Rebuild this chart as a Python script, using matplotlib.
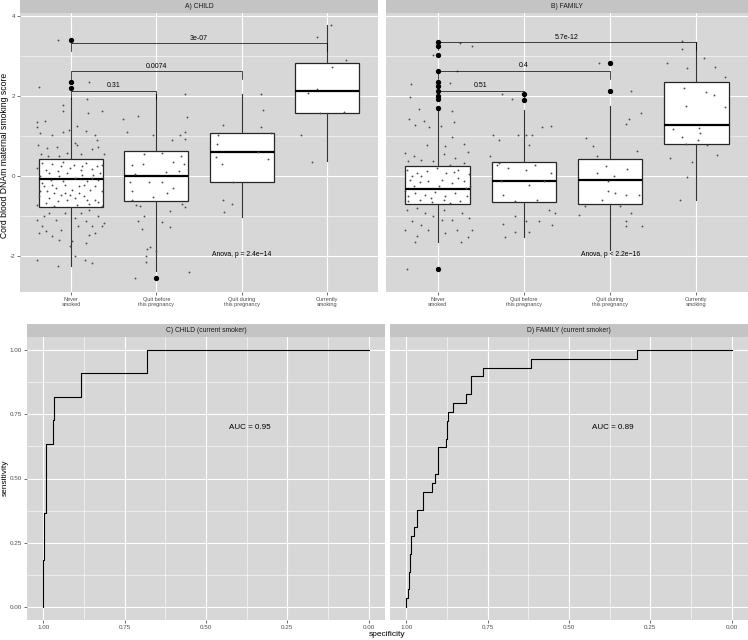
import matplotlib.pyplot as plt

plt.rcParams['font.family'] = ['Liberation Sans', 'DejaVu Sans']

# grupper på x-axeln
groups = ['Never\nsmoked', 'Quit before\nthis pregnancy', 'Quit during\nthis pregnancy', 'Currently\nsmoking']

# boxplot-statistik, CHILD
child_q1 = [-0.78, -0.63, -0.15, 1.58]
child_med = [-0.07, 0.00, 0.60, 2.13]
child_q3 = [0.43, 0.64, 1.07, 2.82]
child_lo = [-2.26, -2.38, -1.02, 0.37]
child_hi = [1.95, 2.05, 2.05, 3.78]
child_out = [[3.41, 2.35, 2.20], [-2.56], [], []]

# boxplot-statistik, FAMILY
family_q1 = [-0.70, -0.65, -0.70, 0.81]
family_med = [-0.33, -0.13, -0.09, 1.28]
family_q3 = [0.24, 0.34, 0.42, 2.36]
family_lo = [-1.65, -1.53, -1.84, -0.60]
family_hi = [1.62, 1.66, 1.76, 3.35]
family_out = [[3.35, 3.26, 3.04, 2.64, 2.35, 2.26, 2.14, 2.01, 1.93, 1.70, -2.32], [2.05, 1.91], [2.83, 2.14], []]

# jitterpunkter (förskjutning i x, värde)
child_never = [
    (-0.34, 0.33), (-0.22, 0.31), (-0.10, 0.34), (0.03, 0.28), (0.17, 0.33), (0.30, 0.24),
    (-0.30, 0.16), (-0.16, 0.12), (-0.05, 0.08), (0.11, 0.14), (0.24, 0.18), (0.34, 0.08),
    (-0.36, -0.01), (-0.24, -0.09), (-0.10, -0.13), (0.05, -0.05), (0.19, -0.13), (0.32, -0.09),
    (-0.32, -0.26), (-0.18, -0.30), (-0.07, -0.42), (0.09, -0.26), (0.22, -0.34), (0.36, -0.38),
    (-0.38, -0.51), (-0.26, -0.55), (-0.12, -0.47), (-0.01, -0.47), (0.15, -0.51), (0.28, -0.59),
    (-0.30, -0.67), (-0.16, -0.63), (-0.05, -0.59), (0.07, -0.72), (0.21, -0.69), (0.32, -0.66),
    (-0.36, -0.38), (-0.22, -0.22), (0.01, -0.34), (0.13, 0.03), (-0.40, 0.20), (-0.26, 0.08),
    (-0.12, 0.24), (-0.01, 0.20), (0.13, 0.24), (0.26, 0.03), (0.36, 0.28), (-0.34, -0.17),
    (-0.20, -0.42), (-0.07, -0.22), (0.15, -0.22), (0.28, -0.26), (-0.40, -0.72), (0.05, -0.55),
    (0.19, -0.59), (0.36, -0.76), (-0.14, -0.01), (0.24, -0.05), (-0.28, -0.38), (0.09, -0.42),
    (-0.38, 2.23), (-0.15, 3.41), (0.21, 2.36), (0.19, 1.94), (-0.09, 1.78), (-0.09, 1.64),
    (0.36, 1.63), (0.20, 1.58), (-0.40, 1.35), (-0.31, 1.39), (-0.40, 1.24), (-0.37, 1.08),
    (-0.22, 1.04), (-0.10, 1.10), (-0.03, 1.16), (0.07, 1.26), (0.17, 1.12), (0.28, 1.03),
    (0.30, 0.91), (-0.39, 0.77), (-0.28, 0.70), (-0.17, 0.74), (0.05, 0.83), (0.07, 0.79),
    (-0.35, 0.56), (-0.27, 0.51), (-0.14, 0.49), (-0.05, 0.59), (0.11, 0.56), (0.24, 0.68),
    (0.32, 0.74), (0.39, 0.54), (-0.32, -1.01), (-0.26, -0.92), (-0.40, -1.09), (-0.34, -1.26),
    (-0.18, -1.09), (-0.12, -1.34), (-0.07, -0.92), (0.05, -1.05), (0.11, -0.92), (0.17, -1.13),
    (0.24, -1.26), (0.32, -1.01), (0.36, -1.26), (-0.38, -1.42), (-0.30, -1.38), (-0.22, -1.51),
    (-0.14, -1.59), (-0.01, -1.76), (0.05, -2.01), (0.17, -1.67), (0.16, -2.09), (0.24, -2.17),
    (-0.40, -2.10), (-0.15, -2.26), (0.01, -1.63), (0.21, -1.47), (0.28, -1.42), (0.38, -1.17),
    (0.08, -1.26), (-0.20, -0.76), (0.21, -0.84),
]
child_before = [
    (-0.39, 1.43), (-0.22, 1.51), (-0.35, 1.11), (-0.04, 1.04), (0.36, 1.48), (0.33, 2.05),
    (0.33, 1.11), (0.28, 1.03), (0.34, 0.93), (0.18, 0.90), (-0.14, 0.54), (0.07, 0.57),
    (0.29, 0.51), (-0.29, 0.27), (-0.16, 0.30), (0.19, 0.34), (0.32, 0.29), (-0.25, 0.04),
    (0.11, 0.09), (0.26, 0.12), (-0.31, -0.16), (-0.29, -0.37), (-0.09, -0.16), (0.07, -0.16),
    (0.20, -0.30), (0.13, -0.43), (-0.04, -0.52), (-0.29, -0.61), (0.30, -0.71), (0.34, -0.77),
    (-0.24, -0.72), (-0.19, -0.76), (0.16, -0.88), (-0.15, -1.01), (-0.22, -1.13), (-0.17, -1.32),
    (0.07, -1.16), (0.16, -1.28), (-0.11, -1.82), (-0.07, -1.77), (-0.12, -2.01), (-0.12, -2.16),
    (-0.01, -1.88), (-0.25, -2.56), (0.38, -2.39),
]
child_during = [
    (0.34, 1.08), (0.23, 1.24), (0.25, 1.66), (0.23, 2.06), (-0.22, 1.27), (-0.28, 1.02),
    (-0.29, 0.81), (-0.30, 0.47), (-0.23, 0.29), (0.31, 0.42), (-0.10, -0.16), (-0.22, -0.60),
    (-0.21, -0.90), (-0.11, -0.71), (0.19, 0.61),
]
child_current = [
    (-0.11, 3.49), (0.05, 3.77), (0.23, 2.91), (0.06, 2.73), (-0.22, 2.07), (-0.11, 2.18),
    (-0.08, 1.57), (0.20, 1.61), (-0.30, 1.02), (-0.18, 0.36),
]

family_never = [
    (0.26, 3.34), (0.40, 3.26), (-0.05, 3.04), (0.22, 2.64), (-0.31, 2.30), (0.14, 2.34),
    (-0.32, 1.98), (-0.22, 1.69), (-0.33, 1.43), (-0.26, 1.27), (-0.16, 1.39), (-0.10, 1.24),
    (0.16, 1.62), (0.19, 1.36), (0.04, 1.26), (0.17, 0.99), (-0.12, 0.78), (0.09, 0.75),
    (0.31, 0.81), (0.35, 0.61), (-0.38, 0.58), (-0.28, 0.49), (-0.19, 0.41), (-0.05, 0.37),
    (0.07, 0.54), (0.20, 0.45), (0.30, 0.33), (-0.34, 0.37), (0.14, 0.28),
    (-0.36, 0.16), (-0.24, 0.08), (-0.13, 0.12), (-0.01, 0.20), (0.10, 0.08), (0.24, 0.16),
    (0.36, 0.04), (-0.32, -0.09), (-0.21, -0.16), (-0.11, -0.13), (0.05, -0.09), (0.16, -0.17),
    (0.30, -0.13), (-0.38, -0.38), (-0.26, -0.42), (-0.15, -0.47), (-0.03, -0.41), (0.09, -0.51),
    (0.20, -0.42), (0.34, -0.51), (-0.34, -0.63), (-0.21, -0.59), (-0.07, -0.66), (0.07, -0.59),
    (0.26, -0.63), (0.38, -0.26), (-0.28, -0.26), (0.01, -0.26), (0.24, -0.05), (-0.19, 0.01),
    (-0.34, -0.51), (0.14, -0.67), (-0.30, 0.00), (0.33, -0.30), (-0.08, -0.55), (0.19, 0.10),
    (-0.36, -0.84), (-0.24, -0.80), (-0.15, -0.92), (-0.05, -1.01), (0.07, -0.84), (0.16, -1.09),
    (0.28, -0.92), (0.36, -1.05), (-0.30, -1.13), (-0.19, -1.22), (0.05, -1.11), (0.22, -1.34),
    (-0.38, -1.34), (-0.24, -1.51), (-0.11, -1.34), (0.09, -1.42), (0.35, -1.52), (-0.26, -1.65),
    (0.27, -1.66), (-0.36, -2.32), (0.40, -1.36),
]
family_before = [
    (-0.25, 2.05), (-0.14, 1.92), (-0.36, 1.03), (-0.29, 0.91), (-0.07, 1.03), (0.03, 1.03),
    (0.09, 1.02), (0.06, 0.79), (0.21, 1.24), (0.31, 1.25), (-0.39, 0.51), (-0.31, 0.28),
    (-0.18, 0.20), (0.03, 0.16), (0.13, 0.28), (0.31, 0.08), (-0.26, -0.13), (0.06, -0.22),
    (0.23, -0.13), (-0.24, -0.47), (-0.10, -0.63), (0.15, -0.59), (0.29, -0.84), (0.36, -0.92),
    (-0.24, -1.19), (-0.10, -1.01), (0.03, -1.13), (0.18, -1.13), (-0.22, -1.52), (-0.10, -1.41),
    (0.06, -1.41), (0.33, -1.22), (-0.29, 0.33),
]
family_during = [
    (-0.13, 2.84), (0.24, 2.14), (0.36, 1.58), (0.22, 1.43), (0.18, 1.31), (-0.28, 0.95),
    (-0.20, 0.76), (-0.15, 0.49), (-0.05, 0.24), (0.04, -0.01), (0.20, 0.18), (0.31, 0.62),
    (-0.02, -0.38), (0.06, -0.42), (0.18, -0.47), (-0.09, -0.59), (0.33, -0.47), (-0.36, -0.97),
    (-0.29, -0.76), (0.12, -0.76), (0.24, -0.92), (0.19, -1.13), (0.37, -1.26), (0.18, -1.26),
    (-0.15, 0.08), (-0.02, -0.13),
]
family_current = [
    (-0.16, 3.38), (-0.16, 3.18), (0.09, 2.95), (-0.11, 2.70), (0.22, 2.74), (0.33, 2.49),
    (-0.34, 2.84), (-0.14, 2.20), (0.11, 2.10), (0.21, 2.02), (-0.12, 1.76), (0.33, 1.74),
    (-0.27, 1.19), (-0.16, 0.99), (0.03, 1.20), (0.04, 1.09), (0.02, 0.91), (-0.12, 0.81),
    (0.12, 0.77), (-0.31, 0.46), (-0.05, 0.34), (0.24, 0.53), (-0.11, -0.03), (-0.19, -0.59),
]

# parvisa jämförelser
pairs = [(1, 2), (1, 3), (1, 4)]
child_br_y = [2.14, 2.62, 3.32]
child_p = ['0.31', '0.0074', '3e-07']
family_br_y = [2.14, 2.64, 3.35]
family_p = ['0.51', '0.4', '5.7e-12']
child_anova = 'Anova, p = 2.4e\u221214'
family_anova = 'Anova, p < 2.2e\u221216'

# ROC-kurvor (specificitet, sensitivitet)
child_spec = [1.0, 1.0, 0.998, 0.998, 0.992, 0.992, 0.969, 0.969, 0.967, 0.967, 0.884, 0.884, 0.681, 0.681, 0.0]
child_sens = [0.0, 0.182, 0.182, 0.364, 0.364, 0.636, 0.636, 0.727, 0.727, 0.818, 0.818, 0.909, 0.909, 1.0, 1.0]
family_spec = [1.0, 1.0, 0.995, 0.995, 0.992, 0.992, 0.990, 0.990, 0.984, 0.984, 0.977, 0.977,
               0.967, 0.967, 0.948, 0.948, 0.920, 0.920, 0.912, 0.912, 0.901, 0.901, 0.877, 0.877,
               0.875, 0.875, 0.871, 0.871, 0.856, 0.856, 0.818, 0.818, 0.800, 0.800, 0.765, 0.765,
               0.617, 0.617, 0.292, 0.292, 0.0]
family_sens = [0.0, 0.034, 0.034, 0.069, 0.069, 0.138, 0.138, 0.207, 0.207, 0.276, 0.276, 0.310,
               0.310, 0.379, 0.379, 0.448, 0.448, 0.483, 0.483, 0.517, 0.517, 0.621, 0.621, 0.655,
               0.655, 0.724, 0.724, 0.759, 0.759, 0.793, 0.793, 0.828, 0.828, 0.897, 0.897, 0.931,
               0.931, 0.966, 0.966, 1.0, 1.0]
child_auc = 'AUC = 0.95'
family_auc = 'AUC = 0.89'

PANEL = '#D7D7D7'
STRIP = '#C4C4C4'
W, H = 748, 640
fig = plt.figure(figsize=(W / 100, H / 100), dpi=100)


def add_ax(x0, y0, x1, y1):
    # pixelkoordinater från övre vänstra hörnet
    return fig.add_axes([x0 / W, 1 - y1 / H, (x1 - x0) / W, (y1 - y0) / H])


def strip(x0, y0, x1, y1, title):
    s = add_ax(x0, y0, x1, y1)
    s.set_facecolor(STRIP)
    s.set_xticks([])
    s.set_yticks([])
    for sp in s.spines.values():
        sp.set_visible(False)
    s.text(0.5, 0.5, title, ha='center', va='center', fontsize=4.9, color='#1A1A1A')


def style(ax):
    ax.set_facecolor(PANEL)
    for sp in ax.spines.values():
        sp.set_visible(False)
    ax.set_axisbelow(True)
    ax.grid(which='major', color='white', lw=0.8)
    ax.grid(which='minor', color='white', lw=0.4)
    ax.tick_params(which='major', length=2, width=0.5, color='#333333',
                   labelsize=4.5, labelcolor='#4D4D4D', pad=1.5)
    ax.tick_params(which='minor', length=0)


def box_panel(ax, q1, med, q3, lo, hi, outs, jit, br_y, p_lab, anova):
    style(ax)
    stats = [dict(med=med[i], q1=q1[i], q3=q3[i], whislo=lo[i], whishi=hi[i], fliers=outs[i])
             for i in range(4)]
    ax.bxp(stats, positions=[1, 2, 3, 4], widths=0.75, patch_artist=True, showcaps=False,
           boxprops=dict(facecolor='white', edgecolor='#262626', lw=0.9),
           medianprops=dict(color='black', lw=1.6),
           whiskerprops=dict(color='#333333', lw=0.8),
           flierprops=dict(marker='o', mfc='black', mec='black', ms=2.8, ls='none'))
    for g, pts in enumerate(jit):
        ax.scatter([g + 1 + dx for dx, _ in pts], [v for _, v in pts],
                   s=1.8, c='#4D4D4D', lw=0, zorder=4)
    for (a, b), y, lab in zip(pairs, br_y, p_lab):
        ax.plot([a, a, b, b], [y - 0.2, y, y, y - 0.2], color='black', lw=0.5, zorder=5)
        ax.text((a + b) / 2, y + 0.03, lab, ha='center', va='bottom', fontsize=5)
    ax.text(3, -1.95, anova, ha='center', va='center', fontsize=4.9)
    ax.set_xlim(0.4, 4.6)
    ax.set_ylim(-2.9, 4.08)
    ax.set_xticks([1, 2, 3, 4])
    ax.set_xticklabels(groups, fontsize=4, linespacing=0.95)
    ax.set_yticks([-2, 0, 2, 4])
    ax.set_yticklabels(['-2', '0', '2', '4'])
    ax.set_yticks([-1, 1, 3], minor=True)


def roc_panel(ax, spec, sens, auc):
    style(ax)
    ax.plot(spec, sens, color='black', lw=0.8)
    ax.text(0.365, 0.70, auc, ha='center', va='center', fontsize=5.8)
    ax.set_xlim(1.05, -0.05)
    ax.set_ylim(-0.05, 1.05)
    t = [0, 0.25, 0.5, 0.75, 1.0]
    ax.set_xticks(t)
    ax.set_xticklabels(['%.2f' % v for v in t])
    ax.set_yticks(t)
    ax.set_yticklabels(['%.2f' % v for v in t])
    ax.set_xticks([0.125, 0.375, 0.625, 0.875], minor=True)
    ax.set_yticks([0.125, 0.375, 0.625, 0.875], minor=True)


# övre raden
strip(20, 0, 378, 13, 'A) CHILD')
axA = add_ax(20, 13, 378, 292)
box_panel(axA, child_q1, child_med, child_q3, child_lo, child_hi, child_out,
          [child_never, child_before, child_during, child_current], child_br_y, child_p, child_anova)

strip(386, 0, 748, 13, 'B) FAMILY')
axB = add_ax(386, 13, 748, 292)
box_panel(axB, family_q1, family_med, family_q3, family_lo, family_hi, family_out,
          [family_never, family_before, family_during, family_current], family_br_y, family_p, family_anova)
axB.tick_params(axis='y', length=0, labelleft=False)

fig.text(5 / W, 1 - 155 / H, 'Cord blood DNAm maternal smoking score', rotation=90,
         ha='center', va='center', fontsize=6.2)

# nedre raden
strip(27, 324, 385, 337, 'C) CHILD (current smoker)')
axC = add_ax(27, 337, 385, 620)
roc_panel(axC, child_spec, child_sens, child_auc)

strip(390, 324, 748, 337, 'D) FAMILY (current smoker)')
axD = add_ax(390, 337, 748, 620)
roc_panel(axD, family_spec, family_sens, family_auc)
axD.tick_params(axis='y', length=0, labelleft=False)

fig.text(387 / W, 1 - 635 / H, 'specificity', ha='center', va='center', fontsize=6)
fig.text(5 / W, 1 - 478 / H, 'sensitivity', rotation=90, ha='center', va='center', fontsize=6)

fig.savefig('out.png', dpi=100)
